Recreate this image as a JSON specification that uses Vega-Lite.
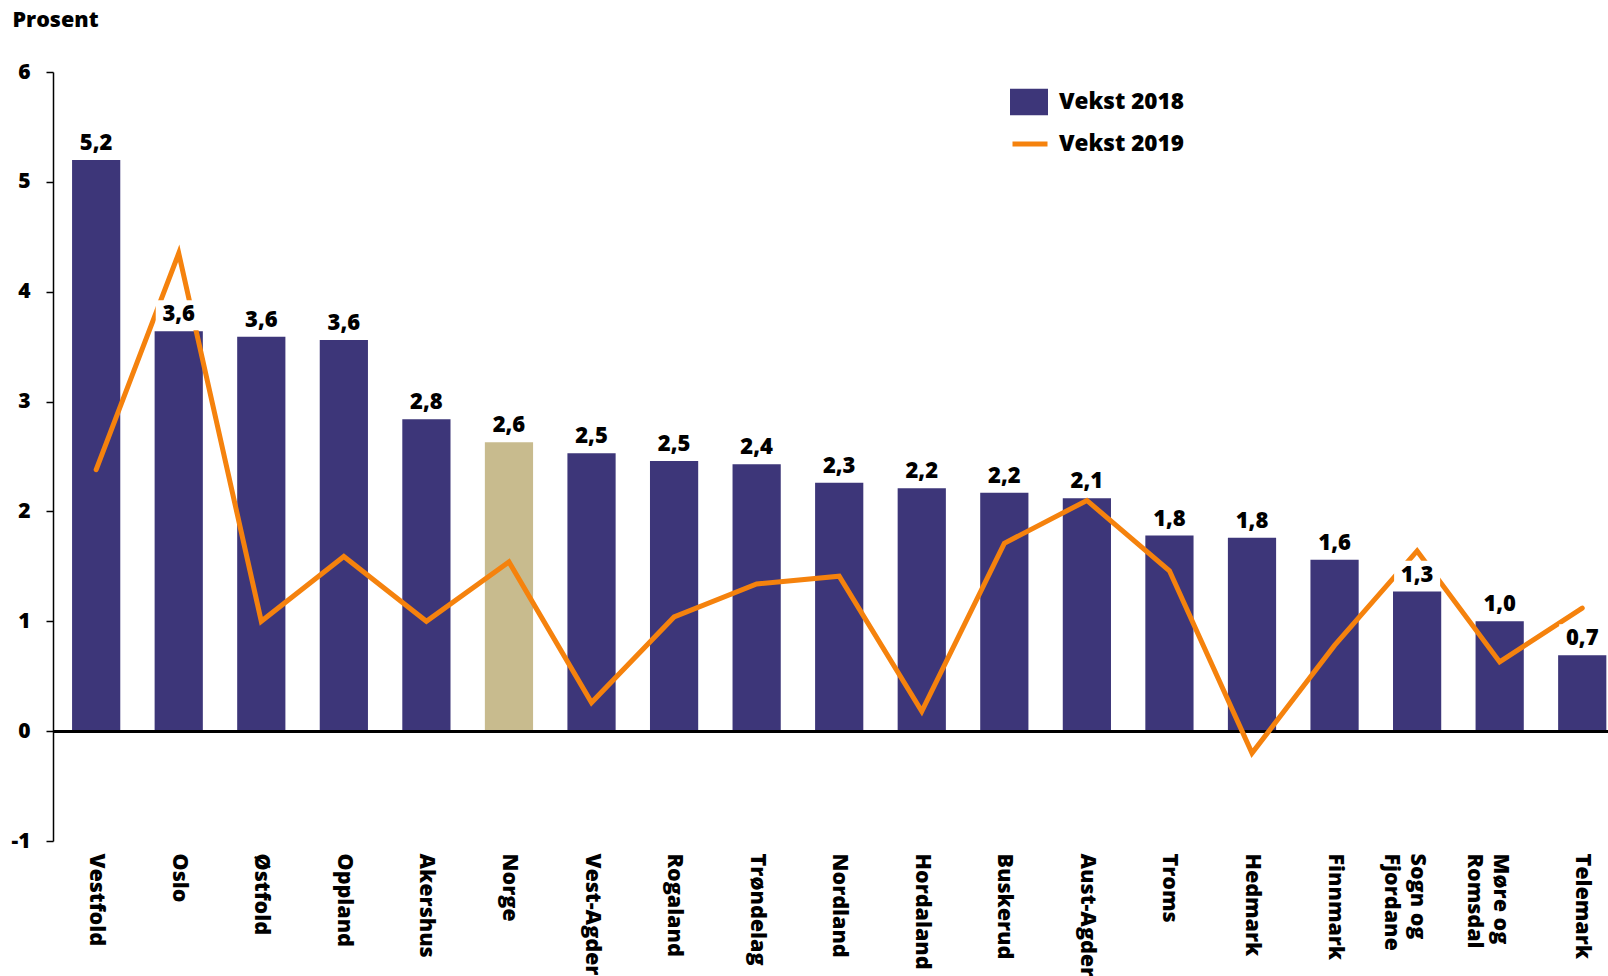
{
  "$schema": "https://vega.github.io/schema/vega-lite/v6.json",
  "autosize": {"type": "none"},
  "padding": {"left": 53, "top": 72, "right": 0, "bottom": 135},
  "width": 1555,
  "height": 769,
  "background": "white",
  "config": {
    "view": {"stroke": null},
    "font": "Open Sans",
    "locale": {"number": {"decimal": ",", "thousands": " ", "grouping": [3], "currency": ["", " kr"], "minus": "-"}},
    "axis": {"labelFont": "Open Sans", "labelFontWeight": 800, "labelColor": "black", "titleColor": "black", "grid": false},
    "legend": {"labelFont": "Open Sans", "labelFontWeight": 800, "labelFontSize": 22.5, "labelColor": "black", "padding": 0}
  },
  "data": {
    "values": [
      {"region": "Vestfold", "v2018": 5.20, "v2019": 2.38},
      {"region": "Oslo", "v2018": 3.64, "v2019": 4.35},
      {"region": "Østfold", "v2018": 3.59, "v2019": 1.00},
      {"region": "Oppland", "v2018": 3.56, "v2019": 1.59},
      {"region": "Akershus", "v2018": 2.84, "v2019": 1.00},
      {"region": "Norge", "v2018": 2.63, "v2019": 1.54},
      {"region": "Vest-Agder", "v2018": 2.53, "v2019": 0.26},
      {"region": "Rogaland", "v2018": 2.46, "v2019": 1.04},
      {"region": "Trøndelag", "v2018": 2.43, "v2019": 1.34},
      {"region": "Nordland", "v2018": 2.26, "v2019": 1.41},
      {"region": "Hordaland", "v2018": 2.21, "v2019": 0.18},
      {"region": "Buskerud", "v2018": 2.17, "v2019": 1.71},
      {"region": "Aust-Agder", "v2018": 2.12, "v2019": 2.10},
      {"region": "Troms", "v2018": 1.78, "v2019": 1.46},
      {"region": "Hedmark", "v2018": 1.76, "v2019": -0.20},
      {"region": "Finnmark", "v2018": 1.56, "v2019": 0.78},
      {"region": "Sogn og Fjordane", "v2018": 1.27, "v2019": 1.64},
      {"region": "Møre og Romsdal", "v2018": 1.00, "v2019": 0.63},
      {"region": "Telemark", "v2018": 0.69, "v2019": 1.12}
    ]
  },
  "encoding": {
    "x": {
      "field": "region", "type": "nominal", "sort": null,
      "scale": {"paddingInner": 0.416, "paddingOuter": 0.1255, "align": 0.92},
      "axis": {
        "title": null, "domain": false, "ticks": false,
        "labelAngle": 90, "labelAlign": "left", "labelBaseline": "middle",
        "labelPadding": 12, "labelFontSize": 21.5, "labelLineHeight": 26,
        "labelExpr": "split(replace(datum.value, ' og ', ' og|'), '|')"
      }
    }
  },
  "layer": [
    {
      "mark": {"type": "bar"},
      "encoding": {
        "y": {
          "field": "v2018", "type": "quantitative",
          "scale": {"domain": [-1, 6], "nice": false},
          "axis": {
            "title": "Prosent", "titleAngle": 0, "titleAlign": "left", "titleBaseline": "alphabetic",
            "titleX": -41, "titleY": -46, "titleFontSize": 21.5, "titleFontWeight": 800, "titleFont": "Open Sans",
            "values": [-1, 0, 1, 2, 3, 4, 5, 6], "format": "d",
            "labelFontSize": 21, "labelPadding": 16,
            "domainColor": "black", "domainWidth": 1.5, "tickColor": "black", "tickWidth": 1.5, "tickSize": 7
          }
        },
        "fill": {
          "datum": "Vekst 2018", "type": "nominal",
          "scale": {"domain": ["Vekst 2018"], "range": ["#3d3679"]},
          "condition": {"test": "datum.region === 'Norge'", "value": "#c8bb8e"},
          "legend": {
            "title": null, "orient": "none", "legendX": 957, "legendY": 11,
            "symbolType": "M-1,-0.7H1V0.7H-1Z", "symbolSize": 1444, "symbolStrokeWidth": 0,
            "symbolOpacity": 1, "labelOffset": 11
          }
        }
      }
    },
    {
      "mark": {"type": "rule", "color": "black", "strokeWidth": 2},
      "encoding": {"y": {"datum": 0, "type": "quantitative"}, "x": null}
    },
    {
      "mark": {"type": "line", "strokeWidth": 5, "strokeCap": "round", "strokeJoin": "miter"},
      "encoding": {
        "y": {"field": "v2019", "type": "quantitative"},
        "stroke": {
          "datum": "Vekst 2019", "type": "nominal",
          "scale": {"domain": ["Vekst 2019"], "range": ["#f5820d"]},
          "legend": {
            "title": null, "orient": "none", "legendX": 957, "legendY": 52,
            "symbolType": "stroke", "symbolSize": 1225, "symbolStrokeWidth": 5, "labelOffset": 9
          }
        }
      }
    },
    {
      "mark": {"type": "point", "shape": "M-1,-0.652H1V0.652H-1Z", "size": 2116, "filled": true, "fill": "white", "opacity": 1, "strokeWidth": 0, "yOffset": -16},
      "encoding": {"y": {"field": "v2018", "type": "quantitative"}}
    },
    {
      "mark": {"type": "text", "font": "Open Sans", "fontWeight": 800, "fontSize": 22, "color": "black", "baseline": "alphabetic", "dy": -10},
      "encoding": {
        "y": {"field": "v2018", "type": "quantitative"},
        "text": {"field": "v2018", "type": "quantitative", "format": ".1f"}
      }
    }
  ]
}
